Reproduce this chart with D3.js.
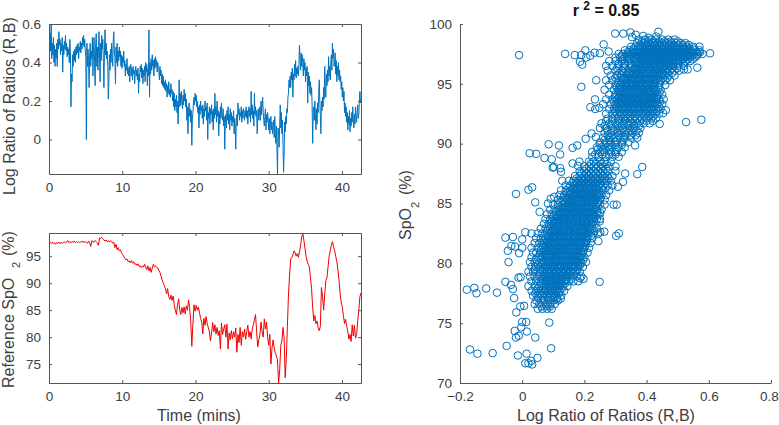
<!DOCTYPE html>
<html><head><meta charset="utf-8">
<script src="https://cdn.jsdelivr.net/npm/d3@7/dist/d3.min.js"></script>
<style>html,body{margin:0;background:#fff}svg{display:block}text{font-family:"Liberation Sans",Arial,sans-serif;fill:#404040}</style>
</head><body><svg id="c" width="779" height="425"></svg>
<script>
const timeMins=[0,.15,.3,.45,.6,.75,.9,1.05,1.2,1.35,1.5,1.65,1.8,1.95,2.1,2.25,2.4,2.55,2.7,2.85,
3,3.15,3.3,3.45,3.6,3.75,3.9,4.05,4.2,4.35,4.5,4.65,4.8,4.95,5.1,5.25,5.4,5.55,5.7,5.85,
6,6.15,6.3,6.45,6.6,6.75,6.9,7.05,7.2,7.35,7.5,7.65,7.8,7.95,8.1,8.25,8.4,8.55,8.7,8.85,
9,9.15,9.3,9.45,9.6,9.75,9.9,10.05,10.2,10.35,10.5,10.65,10.8,10.95,11.1,11.25,11.4,11.55,11.7,11.85,
12,12.15,12.3,12.45,12.6,12.75,12.9,13.05,13.2,13.35,13.5,13.65,13.8,13.95,14.1,14.25,14.4,14.55,14.7,14.85,
15,15.15,15.3,15.45,15.6,15.75,15.9,16.05,16.2,16.35,16.5,16.65,16.8,16.95,17.1,17.25,17.4,17.55,17.7,17.85,
18,18.15,18.3,18.45,18.6,18.75,18.9,19.05,19.2,19.35,19.5,19.65,19.8,19.95,20.1,20.25,20.4,20.55,20.7,20.85,
21,21.15,21.3,21.45,21.6,21.75,21.9,22.05,22.2,22.35,22.5,22.65,22.8,22.95,23.1,23.25,23.4,23.55,23.7,23.85,
24,24.15,24.3,24.45,24.6,24.75,24.9,25.05,25.2,25.35,25.5,25.65,25.8,25.95,26.1,26.25,26.4,26.55,26.7,26.85,
27,27.15,27.3,27.45,27.6,27.75,27.9,28.05,28.2,28.35,28.5,28.65,28.8,28.95,29.1,29.25,29.4,29.55,29.7,29.85,
30,30.15,30.3,30.45,30.6,30.75,30.9,31.05,31.2,31.35,31.5,31.65,31.8,31.95,32.1,32.25,32.4,32.55,32.7,32.85,
33,33.15,33.3,33.45,33.6,33.75,33.9,34.05,34.2,34.35,34.5,34.65,34.8,34.95,35.1,35.25,35.4,35.55,35.7,35.85,
36,36.15,36.3,36.45,36.6,36.75,36.9,37.05,37.2,37.35,37.5,37.65,37.8,37.95,38.1,38.25,38.4,38.55,38.7,38.85,
39,39.15,39.3,39.45,39.6,39.75,39.9,40.05,40.2,40.35,40.5,40.65,40.8,40.95,41.1,41.25,41.4,41.55,41.7,41.85,
42,42.15,42.3,42.45,42.6];
const logRatioTime=[0,.075,.15,.225,.3,.375,.45,.525,.6,.675,.75,.825,.9,.975,1.05,1.125,1.2,1.275,1.35,1.425,1.5,1.575,1.65,1.725,1.8,1.875,1.95,2.025,2.1,2.175,2.25,2.325,2.4,2.475,2.55,2.625,2.7,2.775,2.85,2.925,
3,3.075,3.15,3.225,3.3,3.375,3.45,3.525,3.6,3.675,3.75,3.825,3.9,3.975,4.05,4.125,4.2,4.275,4.35,4.425,4.5,4.575,4.65,4.725,4.8,4.875,4.95,5.025,5.1,5.175,5.25,5.325,5.4,5.475,5.55,5.625,5.7,5.775,5.85,5.925,
6,6.075,6.15,6.225,6.3,6.375,6.45,6.525,6.6,6.675,6.75,6.825,6.9,6.975,7.05,7.125,7.2,7.275,7.35,7.425,7.5,7.575,7.65,7.725,7.8,7.875,7.95,8.025,8.1,8.175,8.25,8.325,8.4,8.475,8.55,8.625,8.7,8.775,8.85,8.925,
9,9.075,9.15,9.225,9.3,9.375,9.45,9.525,9.6,9.675,9.75,9.825,9.9,9.975,10.05,10.125,10.2,10.275,10.35,10.425,10.5,10.575,10.65,10.725,10.8,10.875,10.95,11.025,11.1,11.175,11.25,11.325,11.4,11.475,11.55,11.625,11.7,11.775,11.85,11.925,
12,12.075,12.15,12.225,12.3,12.375,12.45,12.525,12.6,12.675,12.75,12.825,12.9,12.975,13.05,13.125,13.2,13.275,13.35,13.425,13.5,13.575,13.65,13.725,13.8,13.875,13.95,14.025,14.1,14.175,14.25,14.325,14.4,14.475,14.55,14.625,14.7,14.775,14.85,14.925,
15,15.075,15.15,15.225,15.3,15.375,15.45,15.525,15.6,15.675,15.75,15.825,15.9,15.975,16.05,16.125,16.2,16.275,16.35,16.425,16.5,16.575,16.65,16.725,16.8,16.875,16.95,17.025,17.1,17.175,17.25,17.325,17.4,17.475,17.55,17.625,17.7,17.775,17.85,17.925,
18,18.075,18.15,18.225,18.3,18.375,18.45,18.525,18.6,18.675,18.75,18.825,18.9,18.975,19.05,19.125,19.2,19.275,19.35,19.425,19.5,19.575,19.65,19.725,19.8,19.875,19.95,20.025,20.1,20.175,20.25,20.325,20.4,20.475,20.55,20.625,20.7,20.775,20.85,20.925,
21,21.075,21.15,21.225,21.3,21.375,21.45,21.525,21.6,21.675,21.75,21.825,21.9,21.975,22.05,22.125,22.2,22.275,22.35,22.425,22.5,22.575,22.65,22.725,22.8,22.875,22.95,23.025,23.1,23.175,23.25,23.325,23.4,23.475,23.55,23.625,23.7,23.775,23.85,23.925,
24,24.075,24.15,24.225,24.3,24.375,24.45,24.525,24.6,24.675,24.75,24.825,24.9,24.975,25.05,25.125,25.2,25.275,25.35,25.425,25.5,25.575,25.65,25.725,25.8,25.875,25.95,26.025,26.1,26.175,26.25,26.325,26.4,26.475,26.55,26.625,26.7,26.775,26.85,26.925,
27,27.075,27.15,27.225,27.3,27.375,27.45,27.525,27.6,27.675,27.75,27.825,27.9,27.975,28.05,28.125,28.2,28.275,28.35,28.425,28.5,28.575,28.65,28.725,28.8,28.875,28.95,29.025,29.1,29.175,29.25,29.325,29.4,29.475,29.55,29.625,29.7,29.775,29.85,29.925,
30,30.075,30.15,30.225,30.3,30.375,30.45,30.525,30.6,30.675,30.75,30.825,30.9,30.975,31.05,31.125,31.2,31.275,31.35,31.425,31.5,31.575,31.65,31.725,31.8,31.875,31.95,32.025,32.1,32.175,32.25,32.325,32.4,32.475,32.55,32.625,32.7,32.775,32.85,32.925,
33,33.075,33.15,33.225,33.3,33.375,33.45,33.525,33.6,33.675,33.75,33.825,33.9,33.975,34.05,34.125,34.2,34.275,34.35,34.425,34.5,34.575,34.65,34.725,34.8,34.875,34.95,35.025,35.1,35.175,35.25,35.325,35.4,35.475,35.55,35.625,35.7,35.775,35.85,35.925,
36,36.075,36.15,36.225,36.3,36.375,36.45,36.525,36.6,36.675,36.75,36.825,36.9,36.975,37.05,37.125,37.2,37.275,37.35,37.425,37.5,37.575,37.65,37.725,37.8,37.875,37.95,38.025,38.1,38.175,38.25,38.325,38.4,38.475,38.55,38.625,38.7,38.775,38.85,38.925,
39,39.075,39.15,39.225,39.3,39.375,39.45,39.525,39.6,39.675,39.75,39.825,39.9,39.975,40.05,40.125,40.2,40.275,40.35,40.425,40.5,40.575,40.65,40.725,40.8,40.875,40.95,41.025,41.1,41.175,41.25,41.325,41.4,41.475,41.55,41.625,41.7,41.775,41.85,41.925,
42,42.075,42.15,42.225,42.3,42.375,42.45,42.525,42.6];
const logRatio=[.50,.43,.55,.46,.60,.42,.50,.44,.53,.40,.49,.38,.47,.42,.50,.38,.52,.47,.56,.49,.52,.44,.50,.46,.53,.35,.49,.44,.51,.47,.54,.46,.50,.43,.48,.44,.47,.40,.52,.45,
.17,.34,.30,.44,.38,.46,.41,.47,.40,.48,.44,.49,.45,.50,.42,.48,.46,.51,.45,.50,.47,.53,.49,.54,.48,.52,.46,.43,.00,.50,.38,.47,.41,.27,.44,.50,.38,.46,.42,.53,
.33,.46,.53,.40,.28,.50,.55,.38,.48,.36,.45,.56,.42,.30,.50,.41,.54,.47,.52,.40,.27,.46,.57,.44,.50,.42,.46,.38,.21,.30,.44,.36,.47,.40,.50,.44,.38,.52,.56,.46,
.42,.29,.48,.40,.50,.38,.46,.41,.48,.43,.46,.38,.44,.37,.43,.40,.46,.38,.41,.33,.39,.36,.42,.34,.37,.33,.38,.30,.36,.39,.33,.37,.31,.38,.34,.36,.29,.35,.38,.33,
.36,.31,.37,.24,.34,.30,.38,.35,.39,.32,.37,.29,.36,.33,.38,.30,.40,.35,.39,.28,.37,.33,.57,.22,.40,.34,.42,.36,.44,.38,.41,.33,.42,.37,.43,.38,.41,.35,.40,.37,
.36,.31,.38,.33,.36,.29,.34,.28,.33,.27,.30,.26,.31,.25,.29,.22,.28,.24,.30,.23,.26,.22,.29,.24,.26,.20,.25,.17,.24,.15,.21,.17,.23,.14,.20,.08,.19,.31,.17,.24,
.18,.25,.20,.16,.23,.18,.26,.20,.24,.17,.21,.10,.17,.03,.14,.19,.12,.16,.09,.15,-.03,.11,.14,.19,.22,.18,.24,.20,.23,.17,.20,.14,.17,.06,.18,.13,.20,.15,.17,.11,
.18,.08,.16,.12,.20,.15,.17,.10,.19,.00,.14,.11,.17,.08,.16,.13,.18,.09,.15,.05,.16,.11,.24,.13,.17,.09,.20,.12,.15,.02,.14,.08,.17,.11,.19,.13,.10,.16,.07,.12,
-.05,.09,.13,.06,.15,.10,.17,.08,.13,.05,.16,.10,.14,.07,.12,.09,.15,.03,.11,.07,-.05,.10,.13,.07,.19,.13,.16,.10,.14,.12,.17,.09,.15,.11,.16,.13,.10,.15,.12,.17,
.11,.15,.08,.14,.17,.12,.16,.09,.25,.13,.18,.11,.15,.07,.24,.13,.17,.12,.15,.03,.12,.16,.10,.14,.17,.10,.20,.13,.18,.22,.14,.10,.07,.12,.16,.05,.13,.09,.14,.10,
.05,.11,.03,.08,.12,.05,.09,.03,.07,.10,.01,.12,.03,-.02,.07,-.05,-.18,.06,.02,-.04,.08,.18,.06,.14,.03,.10,-.03,-.17,-.08,.09,.04,.12,.08,.16,.14,.22,.24,.31,.27,.33,
.27,.35,.31,.37,.22,.34,.31,.39,.33,.41,.32,.37,.34,.38,.33,.39,.49,.42,.36,.45,.38,.44,.40,.33,.42,.36,.40,.30,.37,.33,.38,.19,.35,.28,.33,.24,.30,.23,.27,.18,
-.02,.14,.17,.10,.20,.13,.05,.16,.08,.19,.14,.24,.31,.20,.12,.03,.20,.15,.22,.17,.27,.21,.38,.26,.22,.34,.28,.36,.30,.43,.33,.38,.31,.40,.44,.36,.50,.42,.47,.38,
.40,.45,.34,.41,.30,.38,.33,.40,.31,.36,.30,.33,.26,.30,.22,.27,.20,.25,.14,.19,.12,.17,.09,.14,.05,.12,.08,.15,.04,.11,.07,.14,.09,.17,.10,.06,.13,.08,.17,.12,
.09,.14,.18,.11,.13,.20,.25,.19,.21];
const referenceSpO2=[97.6,97.5,97.4,97.6,97.3,97.5,97.2,97.5,97.4,97.6,97.3,97.6,97.4,97.5,97.7,97.4,97.6,97.9,97.5,97.7,
97.5,97.7,97.6,97.8,97.5,97.7,97.6,97.7,97.5,97.7,97.6,97.8,97.5,97.7,97.6,97.4,97.8,97.5,96.8,97.9,
97.7,97.6,97.9,97.7,97.5,97.0,98.4,98.3,98.5,98.2,98.0,97.8,98.0,97.7,97.9,97.6,97.9,97.7,97.4,97.6,
96.6,97.2,96.2,96.6,96.0,96.2,95.6,95.3,95.0,94.6,94.3,94.5,94.0,94.1,93.8,94.2,93.7,94.0,93.5,93.6,
93.3,93.6,93.1,93.2,92.9,93.2,93.0,93.5,93.0,92.5,93.2,92.3,92.9,92.0,92.8,93.5,93.0,93.2,92.9,92.8,
92.4,92.0,91.3,90.6,90.0,89.5,89.0,88.0,89.0,87.5,87.0,87.8,86.8,87.6,86.0,85.0,84.2,86.0,87.1,85.0,
84.2,85.5,84.5,85.6,84.3,85.8,85.0,86.9,85.5,83.0,78.3,82.5,86.0,84.8,85.9,85.0,85.6,84.5,83.5,82.8,
80.6,83.5,82.2,83.8,82.5,81.8,81.0,79.3,80.8,82.7,81.0,82.3,80.6,81.8,80.3,81.2,77.8,82.6,80.5,81.5,
82.3,80.0,82.4,77.8,80.8,79.5,81.2,79.7,81.0,80.0,81.7,77.2,80.5,79.0,81.8,78.5,81.0,80.0,81.5,79.6,
81.0,82.2,80.0,81.0,79.7,81.5,82.3,83.2,84.2,81.0,78.2,79.5,80.5,82.8,81.0,80.0,83.4,81.5,82.8,80.0,
78.5,80.5,75.0,78.0,79.5,78.0,77.0,76.5,75.8,71.5,74.0,78.5,79.3,81.8,80.0,72.5,76.0,82.0,88.0,91.5,
94.5,94.8,95.2,96.0,95.7,95.0,95.5,94.8,95.8,97.0,98.5,99.3,98.0,96.5,95.0,94.0,93.5,93.0,91.0,89.0,
85.5,83.0,84.0,82.5,83.0,81.8,81.2,82.0,89.2,87.5,85.0,88.0,90.5,91.0,93.0,95.0,96.0,97.0,97.7,96.8,
96.0,95.0,94.0,92.5,90.5,88.0,86.5,85.5,84.0,82.5,83.3,82.0,81.0,79.6,80.5,79.2,82.3,80.2,82.2,79.8,
80.5,83.0,85.0,87.5,88.2];
const timeTicks=[0,10,20,30,40];
const logRatioTicks=[0,.2,.4,.6];
const spo2Ticks=[75,80,85,90,95];
const scatterXTicks=[-.2,0,.2,.4,.6,.8];
const scatterYTicks=[70,75,80,85,90,95,100];
const upperOutliers=[[-.01,97.4],[.138,97.5],[.169,97.4],[.19,97.4],[.203,97.8],[.193,96.6],[.186,96.85],[.206,97.2],[.219,97.35],[.233,97.6],[.25,97.55],[.262,98.3],[.278,97.7],[.299,99.2],[.325,99.2],[.348,99.3],[.353,98.9],[.365,99.1],[.389,99],[.406,98.85],[.431,98.95],[.438,99.35],[.604,97.55],[.19,94.75],[.238,95.3],[.563,96.35],[.532,96.2],[.52,96.2],[.527,91.8],[.576,92],[.442,91.65],[.462,92.8],[.453,92.55],[.219,93.05],[.235,92.9],[.248,93],[.234,93.7],[.204,90.4],[.223,90.85],[.237,90.55],[.085,89.95],[.118,89.85],[.162,89.65],[.177,89.85],[.024,89.2],[.045,89.15],[.122,89.1],[.072,88.8],[.095,88.7],[.098,88],[.102,88.05],[.122,87.95],[.125,87.65],[.162,88.35],[.184,88.5],[.179,88.15],[.129,86.9],[-.02,85.8],[.02,86.15],[.032,86.35],[.042,85.1],[.103,85.55],[.092,85.4],[.083,85],[.386,88.05],[.37,87.45],[.331,87.5],[.324,86.8],[.308,86.4],[.294,84.9],[.304,84.9],[.363,89.85]];
const lowerOutliers=[[-.054,82.15],[-.03,82.2],[.01,82.6],[-.035,81.45],[-.046,81.05],[-.023,81.4],[-.01,80.85],[-.044,80.1],[0,81.3],[0,82],[-.054,78.45],[-.036,78.2],[-.03,77.85],[-.026,77.1],[-.012,78.8],[-.005,78.85],[-.178,77.8],[-.154,77.95],[-.147,77.5],[-.116,77.9],[-.081,77.55],[-.019,75.9],[-.006,76.4],[.006,76.45],[0,75.1],[.013,75.1],[-.003,74.65],[-.024,74.35],[.015,74.3],[-.02,73.8],[-.011,73.95],[.042,73.8],[-.05,73.1],[-.168,72.8],[-.144,72.45],[-.095,72.5],[-.014,72.3],[.014,72.45],[.093,72.9],[.049,72.1],[.029,71.85],[.01,71.65],[.02,71.65],[.032,71.55],[.087,75.05],[.249,78.45],[.124,77.05],[.111,77.05],[.197,78.7],[.186,78.75],[.245,81.85],[.302,82.3],[.311,82.5],[.264,82.65],[.251,82.6],[.249,83.5],[.251,84.2],[.056,84.3]];
const lowerCloudRows=[
[76.2,.05,.065,.08,.095],[76.6,.04,.055,.075,.09,.105],[76.9,.045,.06,.07,.085,.1,.115],[77.3,.035,.05,.065,.08,.095,.11,.125],[77.7,.03,.045,.06,.075,.09,.105,.12,.135],
[78.1,.02,.04,.055,.07,.085,.1,.115,.13,.145],[78.5,.03,.045,.06,.075,.09,.105,.12,.135,.15,.165,.18],[78.9,.025,.04,.055,.07,.085,.1,.115,.13,.145,.16,.175,.19],
[79.3,.02,.035,.05,.065,.08,.095,.11,.125,.14,.155,.17,.185],[79.7,.03,.045,.06,.075,.09,.105,.12,.135,.15,.165,.18,.195],[80.1,.025,.04,.055,.07,.085,.1,.115,.13,.145,.16,.175,.19,.205],
[80.5,.03,.05,.065,.08,.095,.11,.125,.14,.155,.17,.185,.2],[80.9,.035,.045,.06,.075,.09,.105,.12,.135,.15,.165,.18,.195,.21],[81.3,.03,.05,.065,.08,.095,.11,.125,.14,.155,.17,.185,.2,.215],
[81.7,.04,.055,.07,.085,.1,.115,.13,.145,.16,.175,.19,.205,.22],[82.1,.045,.06,.075,.09,.105,.12,.135,.15,.165,.18,.195,.21,.225],[82.5,.03,.05,.065,.08,.095,.11,.125,.14,.155,.17,.185,.2,.215,.23,.245],
[82.9,.06,.075,.09,.105,.12,.135,.15,.165,.18,.195,.21,.225,.24],[83.3,.07,.085,.1,.115,.13,.145,.16,.175,.19,.205,.22,.235],[83.7,.075,.09,.105,.12,.135,.15,.165,.18,.195,.21,.225,.24,.25],
[84.1,.08,.095,.11,.125,.14,.155,.17,.185,.2,.215,.23,.245],[84.5,.09,.105,.12,.135,.15,.165,.18,.195,.21,.225,.24,.255],[84.9,.1,.115,.13,.145,.16,.175,.19,.205,.22,.235,.25,.265],
[85.3,.115,.13,.145,.16,.175,.19,.205,.22,.235,.25,.265],[85.7,.12,.135,.15,.165,.18,.195,.21,.225,.24,.255,.27],[86.1,.125,.14,.155,.17,.185,.2,.215,.23,.245,.26,.28],
[86.5,.14,.155,.17,.185,.2,.215,.23,.245,.26,.275,.29],[86.9,.15,.165,.18,.195,.21,.225,.24,.255,.27,.285],[87.3,.17,.185,.2,.215,.23,.245,.26,.275,.29],[87.7,.185,.2,.215,.23,.245,.26,.275,.3],
[88.1,.2,.215,.23,.245,.26,.28,.3],[88.5,.215,.23,.25,.265,.285]];
const lowerCoreRows=[
[76.4,.062,.078,.09],[77.1,.052,.068,.083,.098,.112],[77.5,.042,.058,.072,.088,.103,.118],[77.9,.05,.067,.082,.097,.113,.128],[78.3,.06,.074,.09,.106,.12,.137],[78.7,.048,.065,.081,.096,.112,.128,.142,.158],
[79.1,.055,.071,.087,.102,.118,.133,.149,.165],[79.5,.04,.058,.073,.088,.103,.118,.133,.148,.163,.178],[79.9,.05,.067,.082,.097,.113,.127,.142,.158,.172,.187],[80.3,.044,.062,.077,.092,.107,.122,.137,.152,.167,.183,.196],
[80.7,.056,.072,.087,.102,.117,.132,.147,.162,.177,.192],[81.1,.06,.076,.091,.106,.121,.136,.151,.166,.181,.197],[81.5,.066,.082,.097,.112,.127,.142,.157,.172,.187,.203],[81.9,.07,.086,.102,.117,.132,.147,.162,.177,.192,.208],
[82.3,.072,.088,.103,.118,.133,.148,.163,.178,.193,.208,.222],[82.7,.08,.096,.112,.127,.142,.157,.172,.187,.202,.218,.232],[83.1,.086,.102,.118,.133,.148,.163,.178,.193,.208,.224],[83.5,.094,.11,.126,.141,.156,.171,.186,.201,.216,.231],
[83.9,.1,.117,.132,.147,.162,.177,.192,.207,.222,.236],[84.3,.108,.123,.138,.153,.168,.183,.198,.213,.228,.241],[84.7,.116,.132,.147,.162,.177,.192,.207,.222,.237],[85.1,.124,.14,.155,.17,.185,.2,.215,.23,.245],
[85.5,.133,.148,.163,.178,.193,.208,.223,.238,.252],[85.9,.142,.158,.173,.188,.203,.218,.233,.248],[86.3,.15,.165,.18,.195,.21,.225,.24,.255,.268],[86.7,.162,.177,.192,.207,.222,.237,.252,.267],[87.1,.175,.19,.205,.22,.235,.25,.265,.278],
[87.5,.19,.205,.22,.235,.25,.265],[87.9,.205,.222,.238,.254,.27],[88.3,.22,.238,.255,.272]];
const lowerDenseRows=[
[77.8,.074,.09,.105],[78.2,.078,.094,.109,.124],[78.6,.078,.094,.109,.124,.139],[79,.078,.094,.109,.124,.139,.154],[79.4,.066,.081,.096,.111,.126,.141,.156,.171],[79.8,.075,.09,.105,.12,.135,.15,.165,.18],
[80.2,.07,.085,.1,.115,.13,.145,.16,.175],[80.6,.064,.08,.095,.11,.125,.14,.155,.17,.185],[81,.07,.085,.1,.115,.13,.145,.16,.175,.19],[81.4,.074,.09,.105,.12,.135,.15,.165,.18,.195],[81.8,.08,.095,.11,.125,.14,.155,.17,.185,.2],
[82.2,.083,.098,.113,.128,.143,.158,.173,.188,.203],[82.6,.09,.105,.12,.135,.15,.165,.18,.195,.21],[83,.095,.11,.125,.14,.155,.17,.185,.2,.215],[83.4,.103,.118,.133,.148,.163,.178,.193,.208,.223],[83.8,.11,.125,.14,.155,.17,.185,.2,.215,.23],
[84.2,.118,.133,.148,.163,.178,.193,.208,.223],[84.6,.126,.141,.156,.171,.186,.201,.216,.231],[85,.135,.15,.165,.18,.195,.21,.225,.24],[85.4,.145,.16,.175,.19,.205,.22,.235],[85.8,.155,.17,.185,.2,.215,.23,.245],
[86.2,.165,.18,.195,.21,.225,.24],[86.6,.175,.19,.205,.22,.235,.25],[87,.19,.205,.22,.235,.25]];
const bridgeRows=[
[88.9,.225,.245,.27,.29,.31],[89.1,.235,.258,.28,.3],[89.3,.225,.25,.265,.285,.3,.32],[89.5,.242,.26,.28,.305],[89.7,.24,.255,.275,.29,.31,.33],[89.9,.25,.265,.282,.3,.32],[90.1,.25,.27,.285,.3,.32,.34],[90.3,.265,.28,.305,.325],
[90.5,.26,.28,.295,.315,.33,.35,.37],[90.7,.275,.29,.31,.33,.348,.365],[90.9,.265,.285,.305,.32,.34,.355,.375],[91.1,.275,.295,.315,.332,.35,.368],[91.3,.25,.27,.29,.31,.325,.345,.36,.38],[91.5,.265,.285,.305,.32,.34,.36,.375],[91.7,.255,.28,.3,.315,.335,.35,.37,.39,.41],[91.9,.27,.29,.31,.328,.345,.362,.38,.4,.42]];
const upperCloudRows=[
[92.1,.275,.29,.31,.325,.34,.355,.37,.385,.4,.415,.43],[92.5,.27,.29,.305,.32,.335,.35,.365,.38,.395,.41,.425,.44],[92.9,.28,.295,.31,.325,.34,.355,.37,.385,.4,.415,.43,.445],
[93.3,.26,.285,.3,.315,.33,.345,.36,.375,.39,.405,.42,.435,.45],[93.7,.27,.29,.305,.32,.335,.35,.365,.38,.395,.41,.425,.44,.455],[94.1,.28,.3,.315,.33,.345,.36,.375,.39,.405,.42,.435,.45],
[94.5,.265,.295,.31,.325,.34,.355,.37,.385,.4,.415,.43,.445],[94.9,.28,.3,.315,.33,.345,.36,.375,.39,.405,.42,.44,.46],[95.3,.27,.29,.31,.325,.34,.355,.37,.385,.4,.415,.43,.445,.46,.475],
[95.7,.285,.305,.32,.335,.35,.365,.38,.395,.41,.425,.44,.455,.47,.49],[96.1,.275,.3,.32,.34,.355,.37,.385,.4,.415,.43,.445,.46,.475,.49,.505],[96.5,.27,.29,.31,.33,.35,.365,.38,.395,.41,.425,.44,.455,.47,.485,.5,.52],
[96.9,.28,.3,.32,.34,.36,.375,.39,.405,.42,.435,.45,.465,.48,.495,.51,.525,.54],[97.2,.3,.315,.33,.345,.36,.375,.39,.405,.42,.435,.45,.465,.48,.495,.51,.525,.54,.555],
[97.5,.31,.325,.34,.355,.37,.385,.4,.415,.43,.445,.46,.475,.49,.505,.52,.535,.55,.565,.58],[97.8,.33,.345,.36,.375,.39,.405,.42,.435,.45,.465,.48,.495,.51,.525,.54,.555,.57],
[98.1,.35,.365,.38,.395,.41,.425,.44,.455,.47,.485,.5,.515,.53,.55,.57],[98.4,.37,.39,.405,.42,.435,.45,.465,.48,.495,.51,.525],[98.7,.375,.395,.415,.43,.45,.47,.49]];
const upperCoreRows=[
[92.3,.3,.318,.333,.348,.363,.378,.393,.408,.422],[92.7,.298,.313,.328,.343,.358,.373,.388,.403,.418,.433],[93.1,.303,.318,.333,.348,.363,.378,.393,.408,.423,.438],[93.5,.295,.31,.325,.34,.355,.37,.385,.4,.415,.43,.443],
[93.9,.298,.313,.328,.343,.358,.373,.388,.403,.418,.433],[94.3,.308,.323,.338,.353,.368,.383,.398,.413,.428,.442],[94.7,.304,.319,.334,.349,.364,.379,.394,.409,.424,.438],[95.1,.308,.323,.338,.353,.368,.383,.398,.413,.428,.443],
[95.5,.3,.318,.333,.348,.363,.378,.393,.408,.423,.438,.453,.467],[95.9,.312,.328,.343,.358,.373,.388,.403,.418,.433,.448,.463,.482],[96.3,.305,.325,.345,.362,.378,.393,.408,.423,.438,.453,.468,.483,.498],
[96.7,.31,.33,.35,.368,.383,.398,.413,.428,.443,.458,.473,.488,.503,.518],[97.05,.325,.345,.365,.382,.397,.412,.427,.442,.457,.472,.487,.502,.517,.532,.548],[97.35,.32,.338,.352,.367,.382,.397,.412,.427,.442,.457,.472,.487,.502,.517,.532,.547,.562],
[97.65,.34,.352,.367,.382,.397,.412,.427,.442,.457,.472,.487,.502,.517,.532,.547,.562,.572],[97.95,.358,.372,.387,.402,.417,.432,.447,.462,.477,.492,.507,.522,.537,.552],[98.25,.378,.397,.412,.427,.442,.457,.472,.487,.502,.517,.535],[98.55,.385,.405,.422,.44,.458,.478,.5]];
const upperDenseRows=[
[93,.31,.325,.34,.355,.37,.385,.4,.415],[93.4,.308,.322,.337,.352,.367,.382,.397,.412,.427],[93.8,.31,.325,.34,.355,.37,.385,.4,.415,.43],[94.2,.315,.33,.345,.36,.375,.39,.405,.42],[94.6,.315,.33,.345,.36,.375,.39,.405,.42],
[95,.32,.335,.35,.365,.38,.395,.41,.425],[95.4,.325,.34,.355,.37,.385,.4,.415,.43],[95.8,.345,.36,.375,.39,.405,.42,.435,.45],[96.2,.36,.375,.39,.405,.42,.435,.45,.465],[96.6,.375,.39,.405,.42,.435,.45,.465,.48],
[96.95,.385,.4,.415,.43,.445,.46,.475,.49,.505],[97.3,.37,.385,.4,.415,.43,.445,.46,.475,.49,.505,.52,.535],[97.6,.36,.375,.39,.405,.42,.435,.45,.465,.48,.495,.51,.525,.54],[97.9,.38,.395,.41,.425,.44,.455,.47,.485,.5,.515,.53]];

const svg=d3.select("#c");
const axisCol="#555";
const BLUE="#0072BD", RED="#f00000";
function styleAxis(g,labels){
  g.selectAll("path").attr("stroke",axisCol).attr("stroke-width",1).attr("fill","none");
  g.selectAll("line").attr("stroke",axisCol).attr("stroke-width",1);
  g.selectAll("text").style("font-size","13.5px").style("font-family",'"Liberation Sans",Arial,sans-serif').attr("fill","#404040");
  if(!labels) g.selectAll("text").remove();
}
function frame(x,y,xt,yt,box){
  const [x0,x1]=x.range(),[y1,y0]=y.range();
  const fmt=d=>d3.format("~g")(d);
  const ax=svg.append("g").attr("transform",`translate(0,${y1})`)
    .call(d3.axisBottom(x).tickValues(xt).tickFormat(fmt).tickSizeInner(-3).tickSizeOuter(0).tickPadding(8));
  styleAxis(ax,true);
  ax.selectAll("text").filter(d=>x(d)>765).attr("dx",-2);
  const ay=svg.append("g").attr("transform",`translate(${x0},0)`)
    .call(d3.axisLeft(y).tickValues(yt).tickFormat(fmt).tickSizeInner(-3).tickSizeOuter(0).tickPadding(8));
  styleAxis(ay,true);
  if(box){
    const at=svg.append("g").attr("transform",`translate(0,${y0})`)
      .call(d3.axisTop(x).tickValues(xt).tickSizeInner(-3).tickSizeOuter(0));
    styleAxis(at,false);
    const ar=svg.append("g").attr("transform",`translate(${x1},0)`)
      .call(d3.axisRight(y).tickValues(yt).tickSizeInner(-3).tickSizeOuter(0));
    styleAxis(ar,false);
  }
}
function vtext(x,y,s,size){
  svg.append("text").attr("transform",`translate(${x},${y}) rotate(-90)`).style("font-size",size+"px").text(s);
}
function clip(id,x,y){
  svg.append("clipPath").attr("id",id).append("rect").attr("x",x.range()[0]).attr("y",y.range()[1]-2)
    .attr("width",x.range()[1]-x.range()[0]).attr("height",y.range()[0]-y.range()[1]+2);
}
const x1=d3.scaleLinear().domain([0,42.6]).range([49,361]);
const y1=d3.scaleLinear().domain([-.179,.6]).range([174,24]);
clip("c1",x1,y1);
svg.append("path").attr("clip-path","url(#c1)").attr("fill","none").attr("stroke",BLUE).attr("stroke-width",1)
  .attr("d",d3.line().x((d,i)=>x1(logRatioTime[i])).y(d=>y1(d))(logRatio));
frame(x1,y1,timeTicks,logRatioTicks,true);
vtext(15,195,"Log Ratio of Ratios (R,B)",16);
const x2=d3.scaleLinear().domain([0,42.6]).range([49,361]);
const y2=d3.scaleLinear().domain([71.5,99.3]).range([383,233]);
clip("c2",x2,y2);
svg.append("path").attr("clip-path","url(#c2)").attr("fill","none").attr("stroke",RED).attr("stroke-width",1)
  .attr("d",d3.line().x((d,i)=>x2(timeMins[i])).y(d=>y2(d))(referenceSpO2));
frame(x2,y2,timeTicks,spo2Ticks,true);
vtext(13.5,388,"Reference SpO",16);
vtext(20,268,"2",11);
vtext(13.5,256,"(%)",16);
svg.append("text").attr("x",199).attr("y",421).attr("text-anchor","middle").style("font-size","16px").text("Time (mins)");
const x3=d3.scaleLinear().domain([-.2,.8]).range([460,771]);
const y3=d3.scaleLinear().domain([70,100]).range([383,24]);
const rows=[...lowerCloudRows,...lowerCoreRows,...lowerDenseRows,...bridgeRows,...upperCloudRows,...upperCoreRows,...upperDenseRows].flatMap(r=>r.slice(1).map(v=>[v,r[0]]));
const pts=[...rows,...lowerOutliers,...upperOutliers];
svg.append("g").selectAll("circle").data(pts).join("circle")
  .attr("cx",d=>x3(d[0])).attr("cy",d=>y3(d[1])).attr("r",3.8)
  .attr("fill","none").attr("stroke",BLUE).attr("stroke-width",1);
frame(x3,y3,scatterXTicks,scatterYTicks,false);
vtext(411,240,"SpO",16);
vtext(419,208,"2",11);
vtext(411,195,"(%)",16);
svg.append("text").attr("x",606).attr("y",421).attr("text-anchor","middle").style("font-size","16px").text("Log Ratio of Ratios (R,B)");
const title=svg.append("text").attr("x",606).attr("y",16).attr("text-anchor","middle").style("font-size","16px").style("font-weight","bold").style("fill","#111");
title.append("tspan").text("r ");
title.append("tspan").attr("dy",-6).style("font-size","12px").text("2");
title.append("tspan").attr("dy",6).text(" = 0.85");
</script></body></html>
